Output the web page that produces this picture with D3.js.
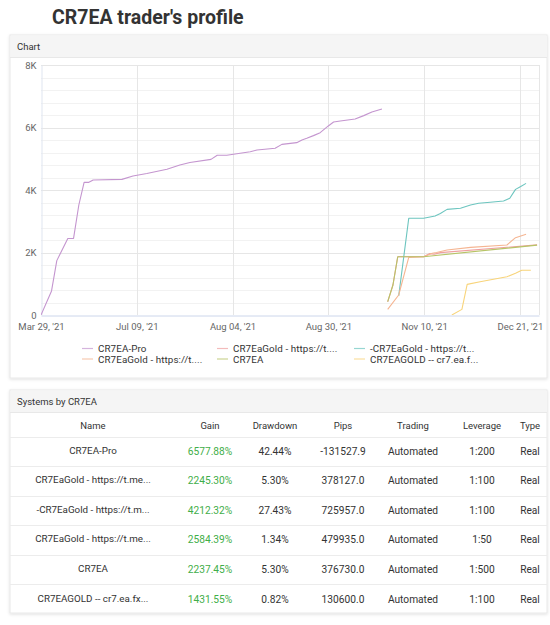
<!DOCTYPE html>
<html>
<head>
<meta charset="utf-8">
<script src="https://cdn.jsdelivr.net/npm/d3@7"></script>
<style>
  body { margin: 0; background: #fff; }
  svg text { font-family: Roboto, "Liberation Sans", sans-serif; }
</style>
</head>
<body>
<div id="page"></div>
<script>
// x axis is a category index (one step per trading day in the data)
const xTickIdx = [0, 20, 40, 60, 80, 100]
const xTickLabels = ["Mar 29, '21", "Jul 09, '21", "Aug 04, '21", "Aug 30, '21", "Nov 10, '21", "Dec 21, '21"]
const yTicks = [0, 2000, 4000, 6000, 8000]

const seriesNames = [
  'CR7EA-Pro',
  'CR7EaGold - https://t....',
  '-CR7EaGold - https://t...',
  'CR7EaGold - https://t....',
  'CR7EA',
  'CR7EAGOLD -- cr7.ea.f...'
]
const seriesColors = ['#c495cf', '#ef9f9f', '#6cc5bf', '#f5b592', '#b7c467', '#f8d47a']

// [index, gain %]
const proPts = [[0, 0], [2.2, 770], [3.3, 1740], [5.6, 2450], [6.8, 2450], [7.9, 3520], [9, 4245], [10, 4245],
  [10.9, 4320], [16.9, 4340], [19.2, 4450], [22.1, 4530], [26.3, 4665], [29, 4800], [31.1, 4880], [35.5, 4980],
  [36.8, 5110], [38.8, 5110], [43.7, 5225], [45.1, 5280], [48.9, 5335], [50.3, 5460], [53.4, 5515], [54.5, 5600],
  [55.5, 5655], [56.9, 5740], [58.3, 5835], [60, 6050], [61.1, 6175], [62.5, 6210], [65.6, 6270], [67.4, 6380],
  [69.1, 6495], [71.2, 6590]]
const gold1Pts = [[72.4, 420], [73.5, 960], [74.5, 1865], [79.9, 1865], [81.2, 1965], [82.1, 1945], [83.4, 1995], [103.6, 2245]]
const gold2Pts = [[74.7, 610], [76.8, 3095], [79.9, 3095], [82.3, 3170], [83.4, 3250], [84.8, 3380], [87.6, 3415],
  [89.7, 3520], [91.4, 3575], [93.8, 3610], [96.6, 3650], [97.9, 3735], [99.1, 4020], [100.1, 4105], [101.3, 4212]]
const gold3Pts = [[72.4, 180], [74.7, 640], [76.8, 1845], [79.9, 1865], [81.7, 1975], [82.6, 2000], [84.8, 2080],
  [89.7, 2165], [97.3, 2240], [99.1, 2475], [101.3, 2584]]
const eaPts = [[72.4, 426], [73.5, 960], [74.5, 1865], [79.9, 1865], [103.6, 2237]]
const goldEaPts = [[85.8, 0], [87.9, 180], [89, 980], [91.7, 1065], [97.3, 1225], [99.1, 1335], [100.4, 1430], [102.3, 1432]]
const allSeries = [proPts, gold1Pts, gold2Pts, gold3Pts, eaPts, goldEaPts]

// table
const tableHeads = ['Name', 'Gain', 'Drawdown', 'Pips', 'Trading', 'Leverage', 'Type']
const sysNames = ['CR7EA-Pro', 'CR7EaGold - https://t.me...', '-CR7EaGold - https://t.m...',
  'CR7EaGold - https://t.me...', 'CR7EA', 'CR7EAGOLD -- cr7.ea.fx...']
const gains = ['6577.88%', '2245.30%', '4212.32%', '2584.39%', '2237.45%', '1431.55%']
const drawdowns = ['42.44%', '5.30%', '27.43%', '1.34%', '5.30%', '0.82%']
const pips = ['-131527.9', '378127.0', '725957.0', '479935.0', '376730.0', '130600.0']
const trading = ['Automated', 'Automated', 'Automated', 'Automated', 'Automated', 'Automated']
const leverage = ['1:200', '1:100', '1:100', '1:50', '1:500', '1:100']
const types = ['Real', 'Real', 'Real', 'Real', 'Real', 'Real']

const W = 550, H = 625
let svg = d3.select('#page').append('svg').attr('width', W).attr('height', H)

let defs = svg.append('defs')
let f = defs.append('filter').attr('id', 'shadow').attr('x', '-5%').attr('y', '-5%').attr('width', '110%').attr('height', '115%')
f.append('feDropShadow').attr('dx', 0).attr('dy', 1).attr('stdDeviation', 1.5).attr('flood-color', '#000').attr('flood-opacity', 0.12)

// title
svg.append('text')
  .attr('x', 52).attr('y', 24)
  .attr('font-size', 19.5).attr('font-weight', 700).attr('fill', '#333')
  .text("CR7EA trader's profile")

function panel(y, h, title) {
  let g = svg.append('g')
  g.append('rect').attr('x', 10).attr('y', y).attr('width', 537).attr('height', h)
    .attr('fill', '#fff').attr('stroke', '#e8e8e8').attr('filter', 'url(#shadow)')
  g.append('rect').attr('x', 10.5).attr('y', y + 0.5).attr('width', 536).attr('height', 22)
    .attr('fill', '#f5f5f5')
  g.append('line').attr('x1', 10).attr('x2', 547).attr('y1', y + 22.5).attr('y2', y + 22.5).attr('stroke', '#e8e8e8')
  g.append('text').attr('x', 17).attr('y', y + 15).attr('font-size', 9.5).attr('fill', '#333').text(title)
  return g
}

panel(35, 343, 'Chart')
panel(390, 223, 'Systems by CR7EA')

// chart
let margin = {top: 65, right: 11, left: 41}
let x = d3.scaleLinear().domain([0, 104]).range([margin.left, W - margin.right])
let y = d3.scaleLinear().domain([0, 8000]).range([315, margin.top])

let grid = svg.append('g')
grid.selectAll('.minor')
  .data(d3.range(400, 8000, 400).filter(v => v % 2000 !== 0))
  .enter().append('line')
  .attr('x1', x(0)).attr('x2', x(104))
  .attr('y1', d => Math.round(y(d)) + 0.5).attr('y2', d => Math.round(y(d)) + 0.5)
  .attr('stroke', '#f2f2f2')
grid.selectAll('.major')
  .data(yTicks.slice(1))
  .enter().append('line')
  .attr('x1', x(0)).attr('x2', x(104))
  .attr('y1', d => Math.round(y(d)) + 0.5).attr('y2', d => Math.round(y(d)) + 0.5)
  .attr('stroke', '#e6e6e6')
grid.selectAll('.vgrid')
  .data(xTickIdx.slice(1).concat([104]))
  .enter().append('line')
  .attr('x1', d => Math.round(x(d)) + 0.5).attr('x2', d => Math.round(x(d)) + 0.5)
  .attr('y1', y(8000)).attr('y2', y(0))
  .attr('stroke', '#e6e6e6')

// axes
let xAxis = svg.append('g')
  .attr('transform', 'translate(0,' + (y(0) + 0.5) + ')')
  .call(d3.axisBottom(x).tickValues(xTickIdx).tickFormat((d, i) => xTickLabels[i]).tickSize(0).tickPadding(8))
xAxis.select('.domain').attr('stroke', '#ccd6eb')
xAxis.selectAll('text').attr('font-size', 9.5).attr('fill', '#666').attr('font-family', '"Liberation Sans", sans-serif')

let yAxis = svg.append('g')
  .attr('transform', 'translate(' + (x(0) + 0.5) + ',0)')
  .call(d3.axisLeft(y).tickValues(yTicks).tickFormat(d => d === 0 ? '0' : d / 1000 + 'K').tickSize(0).tickPadding(5))
yAxis.select('.domain').attr('stroke', '#dfe5f0')
yAxis.selectAll('text').attr('font-size', 9.5).attr('fill', '#666').attr('font-family', '"Liberation Sans", sans-serif')

let line = d3.line().x(d => x(d[0])).y(d => y(d[1]))
svg.append('defs').append('clipPath').attr('id', 'plotClip')
  .append('rect').attr('x', x(0)).attr('y', y(8000)).attr('width', x(104) - x(0)).attr('height', y(0) - y(8000))
svg.append('g').attr('clip-path', 'url(#plotClip)')
  .selectAll('path')
  .data(allSeries)
  .enter().append('path')
  .attr('d', line)
  .attr('fill', 'none')
  .attr('stroke', (d, i) => seriesColors[i])
  .attr('stroke-width', 1.1)
  .attr('stroke-linejoin', 'round')

// legend
let legendX = [82, 217, 354]
let legend = svg.append('g').selectAll('g')
  .data(seriesNames)
  .enter().append('g')
  .attr('transform', (d, i) => 'translate(' + legendX[i % 3] + ',' + (348.5 + Math.floor(i / 3) * 10.5) + ')')
legend.append('line').attr('x1', 0).attr('x2', 11).attr('y1', 0).attr('y2', 0)
  .attr('stroke', (d, i) => seriesColors[i]).attr('stroke-width', 1.2).attr('opacity', 0.7)
legend.append('text').attr('x', 16).attr('y', 3.5)
  .attr('font-size', 9.8).attr('fill', '#333').attr('font-family', '"Liberation Sans", sans-serif')
  .attr('letter-spacing', 0.1)
  .text(d => d)

// table
let colX = [93, 210, 275, 343, 413, 482, 530]
let tbl = svg.append('g')
tbl.selectAll('.head')
  .data(tableHeads)
  .enter().append('text')
  .attr('x', (d, i) => colX[i]).attr('y', 428.5)
  .attr('text-anchor', 'middle').attr('font-size', 9.5).attr('fill', '#333')
  .text(d => d)

let rowY = d3.range(sysNames.length).map(i => 451 + i * 29.6)
tbl.selectAll('.sep')
  .data([437].concat(rowY.slice(0, -1).map(v => v + 15)))
  .enter().append('line')
  .attr('x1', 10).attr('x2', 547)
  .attr('y1', d => Math.round(d) + 0.5).attr('y2', d => Math.round(d) + 0.5)
  .attr('stroke', '#ececec')

let rows = tbl.selectAll('.row')
  .data(sysNames)
  .enter().append('g')
  .attr('transform', (d, i) => 'translate(0,' + rowY[i] + ')')
rows.append('text').attr('x', colX[0]).attr('y', 2.5).attr('text-anchor', 'middle')
  .attr('font-size', 9.8).attr('fill', '#333').text(d => d)
let cols = [gains, drawdowns, pips, trading, leverage, types]
cols.forEach(function(arr, c) {
  rows.append('text')
    .attr('x', colX[c + 1]).attr('y', 3.5)
    .attr('text-anchor', 'middle')
    .attr('font-size', 10.2)
    .attr('fill', c === 0 ? '#3fae49' : '#333')
    .text((d, i) => arr[i])
})
</script>
</body>
</html>
